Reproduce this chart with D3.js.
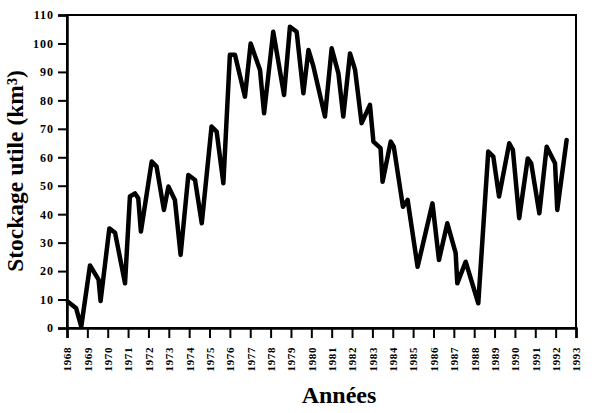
<!DOCTYPE html>
<html>
<head>
<meta charset="utf-8">
<script src="https://cdn.jsdelivr.net/npm/d3@7"></script>
<style>
  html, body { margin: 0; padding: 0; background: #fff; }
  svg { display: block; }
  text { font-family: "Liberation Serif", "Times New Roman", serif; font-weight: bold; fill: #000; }
</style>
</head>
<body>
<svg id="chart" width="599" height="413"></svg>
<script>
// Data (decimal year, storage km³)
const years = [
  1968.05, 1968.45, 1968.7, 1969.13, 1969.55, 1969.65, 1970.08, 1970.36, 1970.85,
  1971.09, 1971.34, 1971.5, 1971.63, 1972.16, 1972.4, 1972.76, 1972.98, 1973.3,
  1973.58, 1973.96, 1974.29, 1974.62, 1975.1, 1975.35, 1975.68, 1976.0, 1976.25,
  1976.74, 1977.02, 1977.48, 1977.68, 1978.13, 1978.66, 1978.95, 1979.28, 1979.61,
  1979.86, 1980.1, 1980.67, 1981.0, 1981.33, 1981.57, 1981.9, 1982.15, 1982.47,
  1982.88, 1983.05, 1983.4, 1983.5, 1983.9, 1984.05, 1984.5, 1984.73, 1985.22,
  1985.95, 1986.27, 1986.68, 1987.09, 1987.17, 1987.58, 1988.2, 1988.69, 1988.94,
  1989.22, 1989.72, 1989.9, 1990.21, 1990.63, 1990.8, 1991.2, 1991.56, 1991.97,
  1992.08, 1992.54
];
const storage = [
  9.2, 6.9, 0.5, 22, 17, 9.5, 35, 33.5, 15.7,
  46.2, 47.3, 45.6, 33.9, 58.5, 56.7, 41.5, 49.7, 45,
  25.7, 53.8, 52, 36.8, 70.8, 69, 50.9, 96, 96,
  81.3, 100, 90.7, 75.5, 104.1, 81.9, 105.9, 104.1, 82.5,
  97.7, 92, 74.3, 98.3, 89.5, 74.3, 96.5, 90.7, 72,
  78.4, 65.5, 63.2, 51.4, 65.5, 63.7, 42.6, 45, 21.5,
  43.8, 23.9, 36.8, 26.3, 15.7, 23.3, 8.7, 62, 60.2,
  46.2, 64.9, 62.6, 38.6, 59.6, 57.9, 40.3, 63.7, 57.9,
  41.5, 66.1
];
const xTickYears = d3.range(1968, 1994);
const yTicks = [0, 10, 20, 30, 40, 50, 60, 70, 80, 90, 100, 110];
const yLabel = "Stockage utile (km³)";
const xLabel = "Années";

const svg = d3.select("#chart");
const mLeft = 67, mRight = 576, mTop = 15, mBottom = 328;

const x = d3.scaleLinear().domain([1968, 1993]).range([mLeft, mRight]);
const y = d3.scaleLinear().domain([0, 110]).range([mBottom, mTop]);

// frame
svg.append("rect")
  .attr("x", mLeft).attr("y", mTop)
  .attr("width", mRight - mLeft).attr("height", mBottom - mTop)
  .attr("fill", "none").attr("stroke", "#000").attr("stroke-width", 2);

// y axis
const yAxis = svg.append("g")
  .attr("transform", `translate(${mLeft},0)`)
  .call(d3.axisLeft(y).tickValues(yTicks).tickSize(9).tickPadding(4).tickFormat(d3.format("d")));
yAxis.select(".domain").attr("stroke-width", 2.5);
yAxis.selectAll(".tick line").attr("stroke-width", 2);
yAxis.selectAll("text")
  .style("font-size", "12px").style("letter-spacing", "1px")
  .style("font-family", "'Liberation Serif', serif").style("font-weight", "bold");

// x axis
const xAxis = svg.append("g")
  .attr("transform", `translate(0,${mBottom})`)
  .call(d3.axisBottom(x).tickValues(xTickYears).tickSize(10).tickPadding(0).tickFormat(d3.format("d")));
xAxis.select(".domain").attr("stroke-width", 2.5);
xAxis.selectAll(".tick line").attr("stroke-width", 2);
xAxis.selectAll("text")
  .attr("transform", "translate(0,19) rotate(-90)")
  .attr("dy", "0.35em").attr("x", 0).attr("y", 0)
  .attr("text-anchor", "end")
  .style("font-size", "11px").style("letter-spacing", "0.6px")
  .style("font-family", "'Liberation Serif', serif").style("font-weight", "bold");

// line
const line = d3.line().x((d, i) => x(years[i])).y(d => y(d));
svg.append("path")
  .datum(storage)
  .attr("d", line)
  .attr("fill", "none")
  .attr("stroke", "#000")
  .attr("stroke-width", 4.5)
  .attr("stroke-linejoin", "round")
  .attr("stroke-linecap", "round");

// axis titles
svg.append("text")
  .attr("transform", "translate(23,171) rotate(-90)")
  .attr("text-anchor", "middle")
  .style("font-size", "23.5px")
  .text(yLabel);

svg.append("text")
  .attr("x", 339).attr("y", 403)
  .attr("text-anchor", "middle")
  .style("font-size", "24px")
  .text(xLabel);
</script>
</body>
</html>
